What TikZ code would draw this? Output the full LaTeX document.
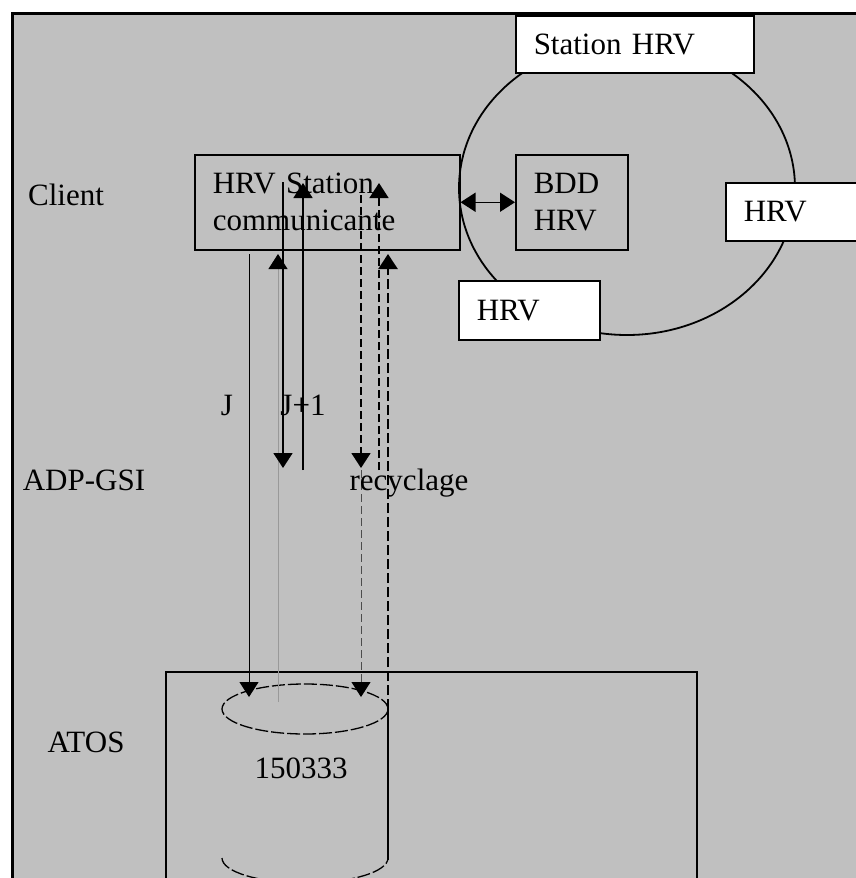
\documentclass[tikz,border=0pt]{standalone}
\usepackage{fontspec}
\setmainfont{Liberation Serif}
\usetikzlibrary{positioning,arrows.meta}
\definecolor{bggray}{RGB}{192,192,192}
\tikzset{
  txt/.style={font=\fontsize{31}{37}\selectfont},
  lbl/.style={txt,inner sep=0pt,anchor=base},
  hbox/.style={txt,draw,line width=1.5pt,inner xsep=18pt,inner ysep=0pt,align=left,anchor=north west},
  wbox/.style={hbox,fill=white},
  tip/.style={-{Triangle[length=15pt,width=19pt,color=black]}},
  dtip/.style={{Triangle[length=15pt,width=19pt]}-{Triangle[length=15pt,width=19pt]},line width=1.5pt},
  flow/.style={tip,line width=1.8pt},
  thinflow/.style={tip,line width=1pt},
  greyflow/.style={tip,line width=1pt,draw=black!40},
  dflow/.style={tip,line width=1.8pt,dash pattern=on 8pt off 4pt},
  dthin/.style={tip,line width=1pt,draw=black!70,dash pattern=on 8pt off 4pt},
  dthick/.style={tip,line width=2.6pt,dash pattern=on 10pt off 4pt},
  edge/.style={line width=1.8pt},
  disk/.style={line width=1.3pt,dash pattern=on 13pt off 3pt},
}
\begin{document}
\begin{tikzpicture}[x=1pt,y=-1pt]
  \useasboundingbox (0,0) rectangle (855,878);
  % background
  \fill[bggray] (11,13) rectangle (870,890);
  \draw[line width=3pt,line join=miter] (12,890) -- (12,13.5) -- (870,13.5);
  % levels
  \node[lbl] (client) at (66,205) {Client};
  \node[lbl] (adp) at (84,490) {ADP-GSI};
  \node[lbl] (atos) at (86,752) {ATOS};
  % HRV ring
  \draw[edge] (627,188) ellipse [x radius=168, y radius=147];
  \node[hbox,text width=229pt,minimum height=95pt] (comm) at (194,154) {HRV Station\\communicante};
  \node[hbox,text width=76pt,minimum height=95pt] (bdd) at (515,154) {BDD\\HRV};
  \node[wbox,text width=202pt,minimum height=57pt] (st) at (515,15) {Station HRV};
  \node[wbox,text width=109pt,minimum height=58pt] (hrvr) at (725,182) {HRV};
  \node[wbox,text width=105pt,minimum height=59pt] (hrvb) at (458,280) {HRV};
  \draw[dtip] (comm.east) -- (bdd.west);
  % ATOS box and disk
  \draw[edge] (166,890) -- (166,672) -- (697,672) -- (697,890);
  \draw[disk] (305,709) ellipse [x radius=83, y radius=25];
  \draw[disk] (222,858) arc[start angle=180, end angle=0, x radius=83, y radius=25];
  \draw[edge] (388,709) -- (388,860);
  \node[lbl] (num) at (301,778) {150333};
  % flow end points
  \coordinate (ja) at (249,254);  \coordinate (jb) at (249,697);
  \coordinate (ga) at (278,702);  \coordinate (gb) at (278,254);
  \coordinate (ka) at (283,182);  \coordinate (kb) at (283,468);
  \coordinate (la) at (303,470);  \coordinate (lb) at (303,183);
  \coordinate (ra) at (361,195);  \coordinate (rb) at (361,468);
  \coordinate (sa) at (361,470);  \coordinate (sb) at (361,697);
  \coordinate (ta) at (379,470);  \coordinate (tb) at (379,183);
  \coordinate (ua) at (388,709);  \coordinate (ub) at (388,254);
  % flows
  \draw[thinflow] (ja) -- (jb);
  \draw[greyflow] (ga) -- (gb);
  \draw[flow] (ka) -- (kb);
  \draw[flow] (la) -- (lb);
  \draw[dflow] (ra) -- (rb);
  \draw[dthin] (sa) -- (sb);
  \draw[dflow,line width=1.5pt] (ta) -- (tb);
  \draw[dthick] (ua) -- (ub);
  \node[lbl] (j) at (227,415) {J};
  \node[lbl] (jp) at (303,415) {J+1};
  \node[lbl] (rec) at (409,490) {recyclage};
\end{tikzpicture}
\end{document}
